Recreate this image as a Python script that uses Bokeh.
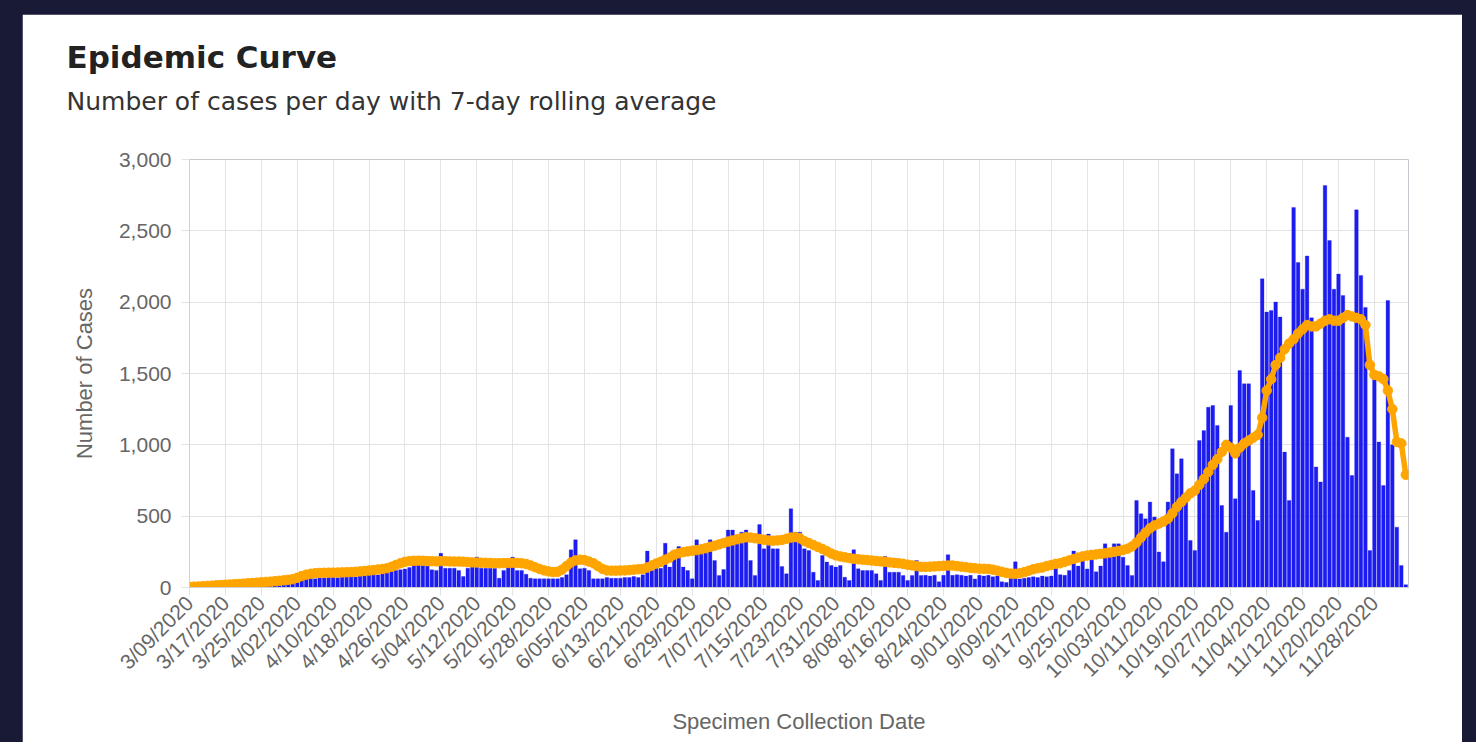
import pandas as pd
from math import pi
from bokeh.plotting import figure
from bokeh.models import (FixedTicker, NumeralTickFormatter, Range1d, Title,
                          ColumnDataSource)
from bokeh.layouts import column
from bokeh.embed import file_html
from bokeh.resources import INLINE

# ---------------- data ----------------
start_date = "2020-03-09"

cases = [
    # 3/09 - 4/01
    2, 3, 2, 4, 6, 8, 7, 10, 12, 14, 13, 17, 18, 21, 24, 23, 28, 30, 29, 35, 38, 36, 42, 46,
    # 4/02 - 5/01
    95, 110, 60, 64, 62, 70, 66, 72, 75, 68, 74, 78, 80, 74, 82, 86, 90, 94, 88, 100,
    110, 165, 120, 125, 130, 140, 205, 205, 200, 150,
    # 5/02 - 6/25
    124, 120, 240, 135, 135, 135, 120, 77, 135, 150, 213, 135, 135, 135, 135, 65, 120, 189,
    213, 120, 120, 93, 65, 61, 61, 61, 61, 61, 61, 70, 89, 264, 334, 131, 135, 120, 61, 61,
    61, 70, 65, 65, 65, 70, 70, 77, 70, 89, 255, 120, 135, 135, 310, 143, 248,
    # 6/26 - 8/19
    287, 143, 119, 61, 334, 281, 285, 334, 189, 84, 126, 403, 403, 330, 388, 403, 189, 84,
    441, 271, 375, 271, 271, 147, 96, 552, 388, 388, 271, 259, 107, 49, 224, 178, 154, 143,
    154, 72, 49, 265, 131, 119, 119, 119, 96, 49, 217, 107, 107, 107, 84, 49, 84, 189, 84,
    # 8/20 - 9/28
    85, 80, 85, 40, 85, 230, 85, 90, 85, 80, 85, 60, 85, 80, 85, 75, 80, 40, 35, 70,
    180, 60, 65, 70, 75, 70, 80, 75, 80, 180, 90, 85, 120, 255, 150, 225, 130, 260, 110, 150,
    # 9/29 - 12/05
    306, 260, 306, 306, 212, 154, 84, 610, 517, 482, 599, 494, 249, 180, 599, 972, 797, 902,
    633, 330, 260, 1030, 1100, 1264, 1276, 1136, 575, 388, 1276, 622, 1521, 1428, 1428, 680,
    470, 2164, 1931, 1942, 2001, 1896, 949, 610, 2664, 2278, 2091, 2324, 1890, 845, 740, 2818,
    2432, 2091, 2197, 2047, 1054, 785, 2647, 2187, 1963, 259, 1462, 1020, 715, 2012, 1000,
    423, 154, 20,
]

rolling_avg = [
    4, 6, 7, 9, 11, 13, 15, 17, 19, 21, 23, 25, 27, 30, 32, 34, 36, 39, 41, 44, 47, 50, 54, 58,
    68, 80, 90, 96, 100, 102, 103, 104, 104, 105, 106, 107, 108, 110, 113, 116, 119, 122, 126,
    130, 135, 145, 158, 170, 180, 185, 187, 188, 187, 185,
    184, 183, 185, 184, 183, 182, 182, 181, 178, 176, 175, 174, 173, 172, 170, 170, 171, 172,
    173, 172, 170, 165, 155, 142, 130, 120, 113, 108, 110, 125, 150, 175, 190, 195, 192, 182,
    170, 150, 130, 120, 118, 118, 119, 120, 122, 125, 128, 130, 140, 155, 168, 180, 195, 210, 230,
    240, 248, 253, 258, 262, 268, 275, 285, 293, 302, 312, 322, 330, 338, 345, 352, 350, 345,
    340, 335, 330, 328, 330, 333, 342, 350, 353, 345, 325, 312, 298, 284, 270, 255, 238, 225,
    218, 212, 206, 201, 198, 195, 192, 189, 186, 183, 180, 176, 173, 170, 166, 160, 155, 150, 145,
    144, 146, 148, 150, 152, 154, 154, 150, 146, 142, 138, 135, 132, 131, 130, 125, 118, 110,
    102, 97, 96, 100, 108, 118, 128, 135, 140, 150, 158, 166, 170, 180, 190, 200, 210, 218,
    224, 228, 232, 236,
    240, 245, 250, 256, 263, 272, 288, 315, 350, 385, 415, 435, 448, 462, 482, 520, 565, 600,
    630, 660, 680, 720, 760, 810, 860, 900, 950, 1000, 980, 940, 980, 1010, 1030, 1050, 1070,
    1190, 1380, 1460, 1560, 1610, 1670, 1710, 1740, 1780, 1810, 1840, 1830, 1830, 1850, 1870,
    1880, 1870, 1870, 1890, 1910, 1900, 1890, 1880, 1840, 1560, 1490, 1480, 1460, 1380, 1250,
    1020, 1010, 790,
]

tick_labels = [
    "3/09/2020", "3/17/2020", "3/25/2020", "4/02/2020", "4/10/2020", "4/18/2020",
    "4/26/2020", "5/04/2020", "5/12/2020", "5/20/2020", "5/28/2020", "6/05/2020",
    "6/13/2020", "6/21/2020", "6/29/2020", "7/07/2020", "7/15/2020", "7/23/2020",
    "7/31/2020", "8/08/2020", "8/16/2020", "8/24/2020", "9/01/2020", "9/09/2020",
    "9/17/2020", "9/25/2020", "10/03/2020", "10/11/2020", "10/19/2020", "10/27/2020",
    "11/04/2020", "11/12/2020", "11/20/2020", "11/28/2020",
]
tick_step_days = 8
y_ticks = [0, 500, 1000, 1500, 2000, 2500, 3000]

title_text = "Epidemic Curve"
subtitle_text = "Number of cases per day with 7-day rolling average"
x_label = "Specimen Collection Date"
y_label = "Number of Cases"

# ---------------- build ----------------
dates = pd.date_range(start_date, periods=len(cases), freq="D")
day_index = list(range(len(cases)))
source = ColumnDataSource(dict(day=day_index, date=[d.strftime("%m/%d/%Y") for d in dates],
                               cases=cases, avg=rolling_avg))

tick_days = [i * tick_step_days for i in range(len(tick_labels))]

AXIS_FONT = "Liberation Sans"
TITLE_FONT = "DejaVu Sans"
GREY = "#666666"
GRID = "#e3e3e3"
FIG_W, FIG_H = 1440, 728

p = figure(width=FIG_W, height=FIG_H, output_backend="svg", toolbar_location=None,
           x_range=Range1d(0, len(cases) - 0.4), y_range=Range1d(0, 3000),
           min_border_left=167, min_border_right=54, min_border_top=145,
           min_border_bottom=155, background_fill_color="white",
           border_fill_color="white", outline_line_color=None)

p.vbar(x="day", top="cases", width=0.8, source=source,
       fill_color="#1c1cf0", line_color="#1c1cf0", line_width=0.3)
p.line(x="day", y="avg", source=source, line_width=5.5, line_color="#FFA500")
p.scatter(x="day", y="avg", source=source, size=9.5, fill_color="#FFA500",
          line_color="#FFA500")

# x axis
p.xaxis.ticker = FixedTicker(ticks=tick_days)
p.xaxis.major_label_overrides = {d: lab for d, lab in zip(tick_days, tick_labels)}
p.xaxis.major_label_orientation = pi / 4
p.xaxis.axis_label = x_label
# y axis
p.yaxis.ticker = FixedTicker(ticks=y_ticks)
p.yaxis.formatter = NumeralTickFormatter(format="0,0")
p.yaxis.axis_label = y_label

for ax in (p.xaxis[0], p.yaxis[0]):
    ax.major_tick_in = 0
    ax.major_tick_out = 8
    ax.minor_tick_line_color = None
    ax.major_tick_line_color = GRID
    ax.axis_line_color = "#d0d0d0"
    ax.major_label_text_font = AXIS_FONT
    ax.major_label_text_font_size = "21px"
    ax.major_label_text_color = GREY
    ax.axis_label_text_font = AXIS_FONT
    ax.axis_label_text_font_size = "22px"
    ax.axis_label_text_font_style = "normal"
    ax.axis_label_text_color = GREY

p.xaxis.major_label_standoff = 4
p.xaxis.axis_label_standoff = 16
p.yaxis.major_label_standoff = 10
p.yaxis.axis_label_standoff = 19

p.xgrid.grid_line_color = GRID
p.ygrid.grid_line_color = GRID
p.xgrid.ticker = FixedTicker(ticks=tick_days)
p.ygrid.ticker = FixedTicker(ticks=y_ticks)

# titles (stacked above the frame: spacer, subtitle, title)
TITLE_SHIFT = -123  # from the frame's left edge to the card's text margin
p.add_layout(Title(text=" ", text_font_size="24px", align="left"), "above")
p.add_layout(Title(text=subtitle_text, text_font=TITLE_FONT, text_font_size="25px",
                   text_font_style="normal", text_color="#333333", align="left",
                   offset=TITLE_SHIFT), "above")
p.add_layout(Title(text=title_text, text_font=TITLE_FONT, text_font_size="31px",
                   text_font_style="bold", text_color="#222222", align="left",
                   offset=TITLE_SHIFT), "above")

layout = column(p, styles={"background-color": "#181a36", "padding": "14px 14px 0px 22px"})

open("out.html", "w").write(file_html(layout, INLINE))
